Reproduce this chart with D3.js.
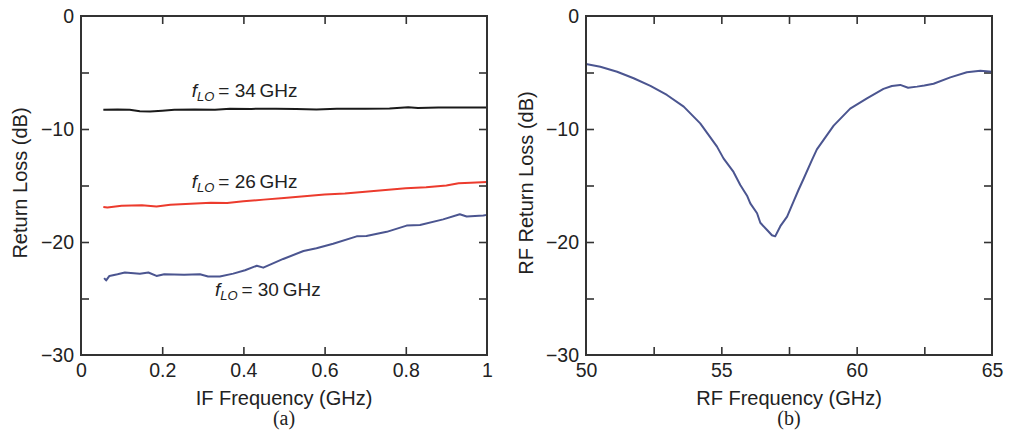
<!DOCTYPE html>
<html>
<head>
<meta charset="utf-8">
<script src="https://cdn.jsdelivr.net/npm/d3@7"></script>
<style>
  body { margin: 0; background: #fff; }
  text { font-family: "Liberation Sans", Arial, sans-serif; fill: #222; }
  .cap { font-family: "Liberation Serif", "Times New Roman", serif; }
</style>
</head>
<body>
<div id="chart"></div>
<script>
// panel (a): IF frequency (GHz) vs return loss (dB)
const ifFreq34 = [0.055, 0.09, 0.12, 0.145, 0.17, 0.2, 0.23, 0.28, 0.33, 0.367, 0.42, 0.48, 0.53, 0.58, 0.63, 0.7, 0.76, 0.806, 0.83, 0.88, 0.94, 1.0];
const loss34   = [-8.3, -8.28, -8.3, -8.42, -8.45, -8.38, -8.3, -8.28, -8.3, -8.2, -8.22, -8.2, -8.22, -8.28, -8.2, -8.2, -8.18, -8.08, -8.15, -8.1, -8.1, -8.1];

const ifFreq26 = [0.055, 0.065, 0.1, 0.15, 0.186, 0.22, 0.27, 0.32, 0.36, 0.4, 0.45, 0.5, 0.55, 0.6, 0.65, 0.7, 0.75, 0.8, 0.85, 0.9, 0.93, 0.96, 1.0];
const loss26   = [-16.9, -16.95, -16.8, -16.75, -16.85, -16.7, -16.62, -16.52, -16.55, -16.4, -16.25, -16.1, -15.95, -15.8, -15.7, -15.55, -15.4, -15.25, -15.15, -15.0, -14.8, -14.75, -14.7];

const ifFreq30 = [0.057, 0.062, 0.07, 0.09, 0.108, 0.145, 0.166, 0.186, 0.205, 0.254, 0.293, 0.313, 0.342, 0.375, 0.404, 0.433, 0.449, 0.498, 0.548, 0.58, 0.621, 0.679, 0.703, 0.753, 0.802, 0.835, 0.892, 0.933, 0.95, 0.991, 1.0];
const loss30   = [-23.2, -23.4, -23.0, -22.85, -22.7, -22.8, -22.7, -23.0, -22.85, -22.9, -22.85, -23.05, -23.05, -22.8, -22.5, -22.1, -22.27, -21.5, -20.8, -20.56, -20.15, -19.5, -19.47, -19.1, -18.55, -18.5, -18.0, -17.55, -17.75, -17.65, -17.6];

// panel (b): RF frequency (GHz) vs RF return loss (dB)
const rfFreq = [50.0, 50.53, 51.15, 51.76, 52.38, 52.99, 53.61, 54.22, 54.84, 55.08, 55.45, 55.7, 55.95, 56.07, 56.32, 56.44, 56.69, 56.87, 56.99, 57.18, 57.43, 57.67, 57.85, 58.04, 58.35, 58.53, 59.15, 59.76, 60.38, 60.99, 61.3, 61.61, 61.9, 62.23, 62.5, 62.84, 63.46, 64.07, 64.57, 65.0];
const rfLoss = [-4.25, -4.49, -4.93, -5.51, -6.19, -6.99, -8.02, -9.5, -11.56, -12.6, -13.8, -14.96, -15.9, -16.58, -17.46, -18.3, -18.94, -19.4, -19.5, -18.6, -17.76, -16.4, -15.4, -14.4, -12.74, -11.8, -9.7, -8.2, -7.29, -6.45, -6.2, -6.1, -6.35, -6.25, -6.15, -6.0, -5.43, -4.98, -4.84, -4.93];

const yTicks = [0, -10, -20, -30];
const yMinor = [-5, -10, -15, -20, -25];
const ifTicks = [0, 0.2, 0.4, 0.6, 0.8, 1];
const rfTicks = [50, 55, 60, 65];
const rfMinor = [52.5, 55, 57.5, 60, 62.5];

const W = 1011, H = 435;
const svg = d3.select('#chart').append('svg')
  .attr('width', W)
  .attr('height', H);

const plotTop = 16, plotBottom = 355;

function panel(opt) {
  const x = d3.scaleLinear().domain(opt.xDomain).range([opt.left, opt.right]);
  const y = d3.scaleLinear().domain([-30, 0]).range([plotBottom, plotTop]);
  const g = svg.append('g');

  // inward ticks on all four sides
  const tick = 8;
  g.append('g').attr('transform', `translate(0,${plotBottom})`)
    .call(d3.axisBottom(x).tickValues(opt.xMinor).tickSize(-tick).tickFormat(''))
    .call(a => a.select('.domain').remove());
  g.append('g').attr('transform', `translate(0,${plotTop})`)
    .call(d3.axisTop(x).tickValues(opt.xMinor).tickSize(-tick).tickFormat(''))
    .call(a => a.select('.domain').remove());
  g.append('g').attr('transform', `translate(${opt.left},0)`)
    .call(d3.axisLeft(y).tickValues(yMinor).tickSize(-tick).tickFormat(''))
    .call(a => a.select('.domain').remove());
  g.append('g').attr('transform', `translate(${opt.right},0)`)
    .call(d3.axisRight(y).tickValues(yMinor).tickSize(-tick).tickFormat(''))
    .call(a => a.select('.domain').remove());
  g.selectAll('.tick line').attr('stroke', '#333').attr('stroke-width', 1.6);

  // labels
  const xl = g.append('g').attr('transform', `translate(0,${plotBottom})`)
    .call(d3.axisBottom(x).tickValues(opt.xTicks).tickSize(0).tickPadding(8).tickFormat(d3.format('')));
  const yl = g.append('g').attr('transform', `translate(${opt.left},0)`)
    .call(d3.axisLeft(y).tickValues(yTicks).tickSize(0).tickPadding(7).tickFormat(d3.format('')));
  [xl, yl].forEach(a => {
    a.select('.domain').remove();
    a.selectAll('text').attr('font-size', 19.5).attr('fill', '#222')
      .attr('font-family', '"Liberation Sans", Arial, sans-serif');
  });

  // curves
  opt.series.forEach(s => {
    const line = d3.line().x((d, i) => x(s.xs[i])).y(d => y(d)).curve(d3.curveLinear);
    g.append('path')
      .datum(s.ys)
      .attr('d', line)
      .attr('fill', 'none')
      .attr('stroke', s.color)
      .attr('stroke-width', 2)
      .attr('stroke-linejoin', 'round');
  });

  // frame
  g.append('rect')
    .attr('x', opt.left).attr('y', plotTop)
    .attr('width', opt.right - opt.left).attr('height', plotBottom - plotTop)
    .attr('fill', 'none').attr('stroke', '#333').attr('stroke-width', 2);

  const cx = (opt.left + opt.right) / 2;
  g.append('text')
    .attr('x', cx).attr('y', 405)
    .attr('text-anchor', 'middle')
    .attr('font-size', 20)
    .text(opt.xTitle);
  g.append('text')
    .attr('transform', `translate(${opt.yTitleX},183) rotate(-90)`)
    .attr('text-anchor', 'middle')
    .attr('font-size', 20)
    .text(opt.yTitle);
  g.append('text')
    .attr('class', 'cap')
    .attr('x', cx).attr('y', 425)
    .attr('text-anchor', 'middle')
    .attr('font-size', 20)
    .text(opt.caption);

  return {x, y, g};
}

const a = panel({
  left: 81, right: 487,
  xDomain: [0, 1], xTicks: ifTicks, xMinor: [0.2, 0.4, 0.6, 0.8],
  xTitle: 'IF Frequency (GHz)', yTitle: 'Return Loss (dB)', yTitleX: 27, caption: '(a)',
  series: [
    {xs: ifFreq34, ys: loss34, color: '#1a1a1a'},
    {xs: ifFreq26, ys: loss26, color: '#ec3b2d'},
    {xs: ifFreq30, ys: loss30, color: '#4b5590'}
  ]
});

panel({
  left: 586, right: 992,
  xDomain: [50, 65], xTicks: rfTicks, xMinor: rfMinor,
  xTitle: 'RF Frequency (GHz)', yTitle: 'RF Return Loss (dB)', yTitleX: 533, caption: '(b)',
  series: [{xs: rfFreq, ys: rfLoss, color: '#4b5590'}]
});

// f_LO annotations on panel (a)
const notes = [
  {lo: '34', fx: 0.273, fy: -7.17},
  {lo: '26', fx: 0.273, fy: -15.2},
  {lo: '30', fx: 0.33, fy: -24.8}
];
notes.forEach(n => {
  const t = a.g.append('text')
    .attr('x', a.x(n.fx)).attr('y', a.y(n.fy))
    .attr('font-size', 19);
  t.append('tspan').attr('font-style', 'italic').text('f');
  t.append('tspan').attr('font-style', 'italic').attr('font-size', 13).attr('dy', 4).text('LO');
  t.append('tspan').attr('dy', -4).text('\u2009= ' + n.lo + '\u2009GHz');
});
</script>
</body>
</html>
